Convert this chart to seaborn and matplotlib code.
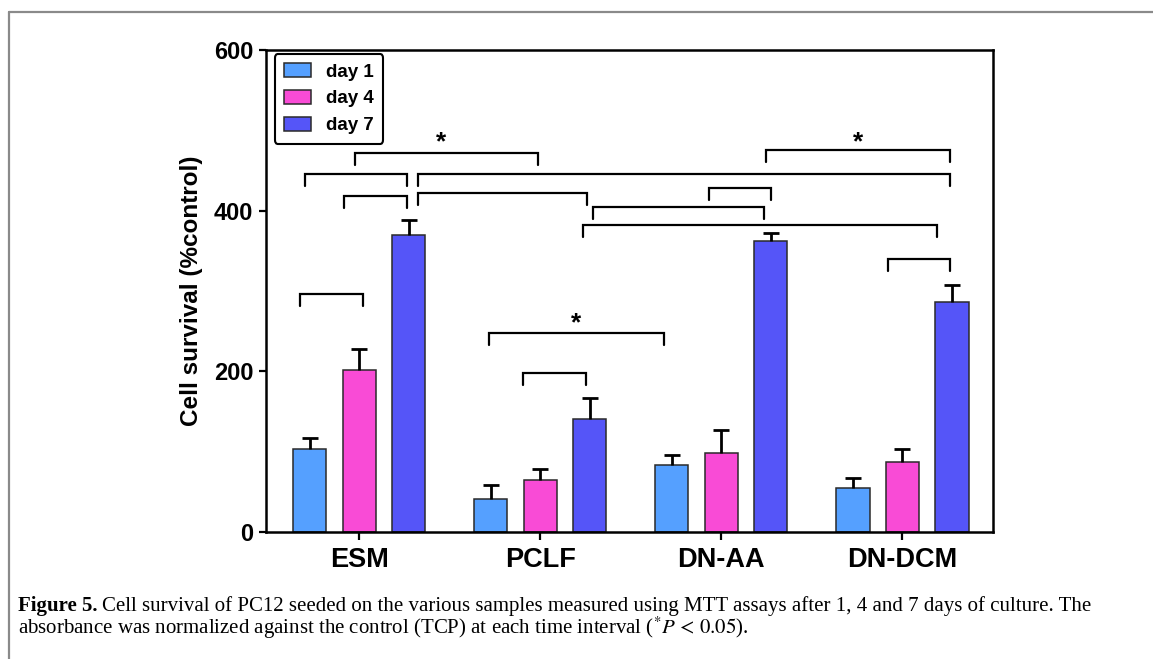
import matplotlib
matplotlib.use('Agg')
import matplotlib.pyplot as plt
import matplotlib.lines as mlines
import numpy as np
import pandas as pd
import seaborn as sns

samples = ['ESM', 'PCLF', 'DN-AA', 'DN-DCM']
days = ['day 1', 'day 4', 'day 7']

day1 = [103, 41, 84, 55]
day4 = [202, 65, 98, 87]
day7 = [370, 141, 362, 286]

err1 = [14, 17, 12, 12]
err4 = [26, 14, 29, 16]
err7 = [19, 26, 10, 21]

# significance brackets: start, end (in category units), height
bracket_x0 = [-0.02, -0.30, 0.324, -0.085, 0.328, 1.291, 1.236, 1.934, 2.245, 2.921, -0.328, 0.715, 0.903]
bracket_x1 = [0.99, 0.265, 3.263, 0.264, 1.26, 2.238, 3.193, 2.273, 3.263, 3.263, 0.019, 1.685, 1.253]
bracket_y = [472, 445.6, 445.6, 418.3, 422.4, 405, 382.2, 427.8, 475.5, 339.8, 296, 248, 197.6]

star_x = [0.455, 2.755, 1.197]
star_y = [476, 476, 251]

COLORS = ['#55A0FF', '#F94BD6', '#5555F8']

sns.set_style('ticks')
plt.rcParams['font.family'] = ['Liberation Sans', 'DejaVu Sans']
plt.rcParams['mathtext.fontset'] = 'stix'
for k in ['text.color', 'axes.labelcolor', 'xtick.color', 'ytick.color']:
  plt.rcParams[k] = 'black'

df = pd.DataFrame({
  'sample': samples * 3,
  'day': [d for d in days for _ in samples],
  'value': day1 + day4 + day7,
})
errs = [err1, err4, err7]

px = 1/100
fig = plt.figure(figsize=(1153*px, 659*px), dpi=100)
ax = fig.add_axes([266/1153, 1 - 532/659, (993-266)/1153, (532-50)/659])

sns.barplot(data=df, x='sample', y='value', hue='day', palette=COLORS,
            errorbar=None, width=0.82, gap=0.33, edgecolor='#2a2a2a',
            linewidth=1.1, ax=ax, saturation=1)

for cont, e in zip(ax.containers, errs):
  xs = [b.get_x() + b.get_width()/2 for b in cont]
  ys = [b.get_height() for b in cont]
  _, caps, _ = ax.errorbar(xs, ys, yerr=[np.zeros(len(e)), e], fmt='none', ecolor='black',
                           elinewidth=2, capsize=6, capthick=2, zorder=1)
  # keep only the upper caps
  caps[0].remove()

tick = 15
for x0, x1, y in zip(bracket_x0, bracket_x1, bracket_y):
  ax.plot([x0, x0, x1, x1], [y - tick, y, y, y - tick], color='black', lw=1.6,
          solid_joinstyle='miter', clip_on=False)

for x, y in zip(star_x, star_y):
  ax.text(x, y, '*', ha='center', va='baseline', fontsize=19, fontweight='bold')

ax.set_xlim(-0.514, 3.5)
ax.set_ylim(0, 600)
ax.set_yticks([0, 200, 400, 600])
ax.set_xlabel('')
ax.set_ylabel('Cell survival (%control)', fontsize=17.5, fontweight='bold', labelpad=8)
ax.tick_params(axis='y', labelsize=17, width=1.6, length=5, pad=4)
ax.tick_params(axis='x', labelsize=19.5, width=1.6, length=6, pad=5)
for lab in ax.get_xticklabels() + ax.get_yticklabels():
  lab.set_fontweight('bold')
for s in ax.spines.values():
  s.set_linewidth(1.8)
  s.set_color('black')

handles, labels = ax.get_legend_handles_labels()
ax.get_legend().remove()
leg = ax.legend(handles, labels, loc='upper left', bbox_to_anchor=(0.012, 0.992),
                borderaxespad=0, prop={'weight': 'bold', 'size': 13.5}, handlelength=1.45,
                handleheight=0.75, handletextpad=0.8, labelspacing=0.5,
                borderpad=0.5, fancybox=True, frameon=True)
leg.get_frame().set_edgecolor('black')
leg.get_frame().set_linewidth(1.5)
leg.get_frame().set_alpha(1)

# page frame (gray rule on top and left)
fig.add_artist(mlines.Line2D([9/1153, 1], [1 - 12/659, 1 - 12/659],
                             transform=fig.transFigure, color='#8a8a8a', lw=1.6))
fig.add_artist(mlines.Line2D([9/1153, 9/1153], [0, 1 - 12/659],
                             transform=fig.transFigure, color='#8a8a8a', lw=1.6))

# caption
cap_font = ['Liberation Serif', 'DejaVu Serif']
cap_size = 15
t1 = fig.text(18/1153, 1 - 611/659, 'Figure 5.', fontsize=cap_size, fontweight='bold',
              family=cap_font, va='baseline')
fig.canvas.draw()
bb = t1.get_window_extent()
fig.text((bb.x1 + 4)/1153, 1 - 611/659,
         'Cell survival of PC12 seeded on the various samples measured using MTT assays after 1, 4 and 7 days of culture. The',
         fontsize=cap_size, family=cap_font, va='baseline')
fig.text(18/1153, 1 - 634/659,
         r'absorbance was normalized against the control (TCP) at each time interval ($^{*}P\,<\,0.05$).',
         fontsize=cap_size, family=cap_font, va='baseline')

fig.savefig('out.png', dpi=100)
